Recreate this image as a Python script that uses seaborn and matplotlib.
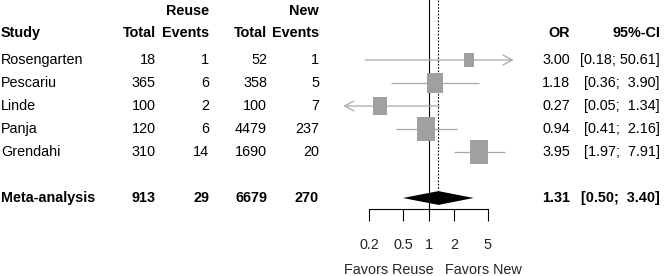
import numpy as np
import seaborn as sns
import matplotlib.pyplot as plt
from matplotlib.path import Path
from matplotlib.ticker import NullLocator

studies = ["Rosengarten", "Pescariu", "Linde", "Panja", "Grendahi"]
reuse_total = [18, 365, 100, 120, 310]
reuse_events = [1, 6, 2, 6, 14]
new_total = [52, 358, 100, 4479, 1690]
new_events = [1, 5, 7, 237, 20]
or_est = [3.00, 1.18, 0.27, 0.94, 3.95]
ci_lo = [0.18, 0.36, 0.05, 0.41, 1.97]
ci_hi = [50.61, 3.90, 1.34, 2.16, 7.91]
weights = [8.3, 20.5, 17.0, 26.5, 27.7]

meta_label = "Meta-analysis"
meta_counts = [913, 29, 6679, 270]
meta_or = 1.31
meta_lo = 0.50
meta_hi = 3.40

ticks = [0.2, 0.5, 1, 2, 5]
tick_labels = ["0.2", "0.5", "1", "2", "5"]

sns.set_theme(style="white")
plt.rcParams["font.family"] = ["Liberation Sans", "DejaVu Sans"]
fs = 10.4

W, H = 667, 276
def row_px(r):
    return 60 + (r - 1) * 23

fig = plt.figure(figsize=(W / 100, H / 100), dpi=100)

# text columns, pixel coordinates
tx = fig.add_axes([0, 0, 1, 1])
tx.set_xlim(0, W)
tx.set_ylim(H, 0)
tx.axis("off")

col_total1, col_ev1, col_total2, col_ev2 = 156, 209, 267, 319
col_or, col_ci = 570, 660

def put(x, r, s, ha="right", bold=False):
    tx.text(x, row_px(r), s, ha=ha, va="center", fontsize=fs,
            fontweight="bold" if bold else "normal", color="black")

# header rows
put(col_ev1, -1.13, "Reuse", bold=True)
put(col_ev2, -1.13, "New", bold=True)
put(1, -0.17, "Study", ha="left", bold=True)
put(col_total1, -0.17, "Total", bold=True)
put(col_ev1, -0.17, "Events", bold=True)
put(col_total2, -0.17, "Total", bold=True)
put(col_ev2, -0.17, "Events", bold=True)
put(col_or, -0.17, "OR", bold=True)
put(col_ci, -0.17, "95%-CI", bold=True)

all_lo = ci_lo + [meta_lo]
all_hi = ci_hi + [meta_hi]
wlo = max(len(f"{v:.2f}") for v in all_lo)
whi = max(len(f"{v:.2f}") for v in all_hi)
def ci_str(lo, hi):
    return "[" + f"{lo:.2f}".rjust(wlo) + "; " + f"{hi:.2f}".rjust(whi) + "]"

rows = np.arange(1, len(studies) + 1)
for i, r in enumerate(rows):
    put(1, r, studies[i], ha="left")
    put(col_total1, r, str(reuse_total[i]))
    put(col_ev1, r, str(reuse_events[i]))
    put(col_total2, r, str(new_total[i]))
    put(col_ev2, r, str(new_events[i]))
    put(col_or, r, f"{or_est[i]:.2f}")
    put(col_ci, r, ci_str(ci_lo[i], ci_hi[i]))

meta_row = len(studies) + 2
put(1, meta_row, meta_label, ha="left", bold=True)
for x, v in zip([col_total1, col_ev1, col_total2, col_ev2], meta_counts):
    put(x, meta_row, str(v), bold=True)
put(col_or, meta_row, f"{meta_or:.2f}", bold=True)
put(col_ci, meta_row, ci_str(meta_lo, meta_hi), bold=True)

tx.text(434, 270, "Favors Reuse", ha="right", va="center", fontsize=fs)
tx.text(445, 270, "Favors New", ha="left", va="center", fontsize=fs)

# forest panel
axis_px = 209
ax = fig.add_axes([343.5 / W, (H - axis_px) / H, 170 / W, axis_px / H])
ax.set_xscale("log")
xmin, xmax = 0.1, 10
ax.set_xlim(xmin, xmax)
ax.set_ylim((axis_px - 60) / 23 + 1, (0 - 60) / 23 + 1)
ax.patch.set_alpha(0)
for s in ["top", "left", "right"]:
    ax.spines[s].set_visible(False)
ax.spines["bottom"].set_bounds(ticks[0], ticks[-1])
ax.spines["bottom"].set_color("black")
ax.spines["bottom"].set_linewidth(0.8)
ax.set_yticks([])
ax.set_xticks(ticks)
ax.set_xticklabels(tick_labels)
ax.xaxis.set_minor_locator(NullLocator())
ax.tick_params(axis="x", direction="out", length=8.6, width=0.8, color="black",
               bottom=True, labelsize=fs, pad=12)

ax.axvline(1, color="black", lw=0.8, zorder=1)
ax.vlines(meta_or, ax.get_ylim()[1], meta_row - 0.3, color="black", lw=0.8,
          linestyles=(0, (1.5, 1.5)), zorder=1)

ci_col = "#a8a8a8"
arrow = "->,head_length=0.55,head_width=0.3"
for i, r in enumerate(rows):
    lo, hi = ci_lo[i], ci_hi[i]
    if hi > xmax:
        ax.annotate("", xy=(xmax, r), xytext=(lo, r), annotation_clip=False,
                    arrowprops=dict(arrowstyle=arrow, color=ci_col, lw=0.9,
                                    shrinkA=0, shrinkB=0))
    elif lo < xmin:
        ax.annotate("", xy=(xmin, r), xytext=(hi, r), annotation_clip=False,
                    arrowprops=dict(arrowstyle=arrow, color=ci_col, lw=0.9,
                                    shrinkA=0, shrinkB=0))
    else:
        ax.hlines(r, lo, hi, color=ci_col, lw=0.9, zorder=2)

# squares, area proportional to weight
rect = Path([(-0.385, -0.5), (0.385, -0.5), (0.385, 0.5), (-0.385, 0.5), (-0.385, -0.5)],
            [Path.MOVETO, Path.LINETO, Path.LINETO, Path.LINETO, Path.CLOSEPOLY])
smax = (24 * 0.72) ** 2
sns.scatterplot(x=or_est, y=rows, size=weights, sizes=(0, smax),
                size_norm=(0, max(weights)), marker=rect, color="#a0a0a0",
                edgecolor="none", linewidth=0, legend=False, ax=ax, zorder=3)

ax.fill([meta_lo, meta_or, meta_hi, meta_or],
        [meta_row, meta_row - 0.3, meta_row, meta_row + 0.3],
        color="black", lw=0, zorder=4)

ax.set_xlabel("")
ax.set_ylabel("")
fig.savefig("out.png", dpi=100, facecolor="white")
